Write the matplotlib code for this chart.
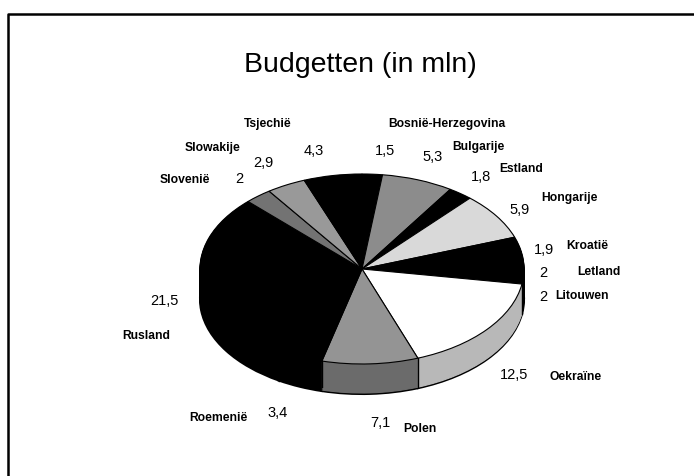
import numpy as np
import matplotlib
matplotlib.use('Agg')
import matplotlib.pyplot as plt
from matplotlib.lines import Line2D

plt.rcParams['font.family'] = ['Liberation Sans', 'DejaVu Sans']

# Gegevens
landen = ['Bosnië-Herzegovina', 'Bulgarije', 'Estland', 'Hongarije', 'Kroatië',
          'Letland', 'Litouwen', 'Oekraïne', 'Polen', 'Roemenië', 'Rusland',
          'Slovenië', 'Slowakije', 'Tsjechië']
budget = [1.5, 5.3, 1.8, 5.9, 1.9, 2, 2, 12.5, 7.1, 3.4, 21.5, 2, 2.9, 4.3]
waarde_tekst = ['1,5', '5,3', '1,8', '5,9', '1,9', '2', '2', '12,5', '7,1',
                '3,4', '21,5', '2', '2,9', '4,3']

# grijstinten van de sectoren (0 = zwart, 1 = wit)
grijs = [0.0, 0.55, 0.0, 0.85, 0.0, 0.0, 0.0, 1.0, 0.58, 0.0, 0.0, 0.45, 0.6, 0.0]

# plaats van de labels in pixels (x, y vanaf boven)
waarde_pos = [(385, 151), (433, 157), (481, 177), (520, 210), (544, 250),
              (543, 273), (543, 297), (514, 375), (380, 423), (278, 413),
              (164, 301), (239, 179), (263, 163), (314, 151)]
naam_pos = [(447, 124), (478, 147), (521, 169), (569, 198), (587, 246),
            (599, 272), (582, 296), (576, 377), (420, 429), (218, 418),
            (146, 336), (185, 180), (213, 148), (268, 124)]

W, H = 694, 477
cx, cy, rx, ry, diepte = 362, 270, 162, 95, 30

fig = plt.figure(figsize=(W / 100, H / 100), dpi=100)
ax = fig.add_axes([(cx - 1.25 * rx) / W, (H - cy - 1.25 * ry) / H,
                   2.5 * rx / W, 2.5 * ry / H])

top_kleur = [str(g) for g in grijs]
zij_kleur = [str(round(g * 0.72, 3)) for g in grijs]

# zijkant: gestapelde taarten
for i, d in enumerate(np.arange(diepte, 0, -1)):
    wedges, _ = ax.pie(budget, colors=zij_kleur, startangle=90, counterclock=False,
                       center=(0, -d / ry))
    for w, c in zip(wedges, zij_kleur):
        if i == 0:
            w.set_edgecolor('black')
            w.set_linewidth(1.5)
        else:
            w.set_edgecolor(c)
            w.set_linewidth(0.8)

# verticale randen op de voorkant
hoeken = 90 - np.cumsum(budget) / np.sum(budget) * 360
for h in hoeken:
    x, y = np.cos(np.radians(h)), np.sin(np.radians(h))
    if y < 0:
        ax.plot([x, x], [y, y - diepte / ry], color='black', lw=1)

# bovenkant
ax.pie(budget, colors=top_kleur, startangle=90, counterclock=False,
       wedgeprops=dict(edgecolor='black', linewidth=0.8))
ax.set_aspect('auto')
ax.set_xlim(-1.25, 1.25)
ax.set_ylim(-1.25, 1.25)
ax.axis('off')

# labels
for naam, wt, (vx, vy), (nx, ny) in zip(landen, waarde_tekst, waarde_pos, naam_pos):
    fig.text(vx / W, 1 - vy / H, wt, ha='center', va='center', fontsize=10.5)
    fig.text(nx / W, 1 - ny / H, naam, ha='center', va='center', fontsize=8.7,
             fontweight='bold')

fig.text(360 / W, 1 - 65 / H, 'Budgetten (in mln)', ha='center', va='center',
         fontsize=20.5)

# kader
fig.add_artist(Line2D([8 / W, 8 / W, 1], [0, 1 - 15 / H, 1 - 15 / H],
                      color='black', lw=1.8, transform=fig.transFigure))

fig.savefig('out.png', dpi=100)
